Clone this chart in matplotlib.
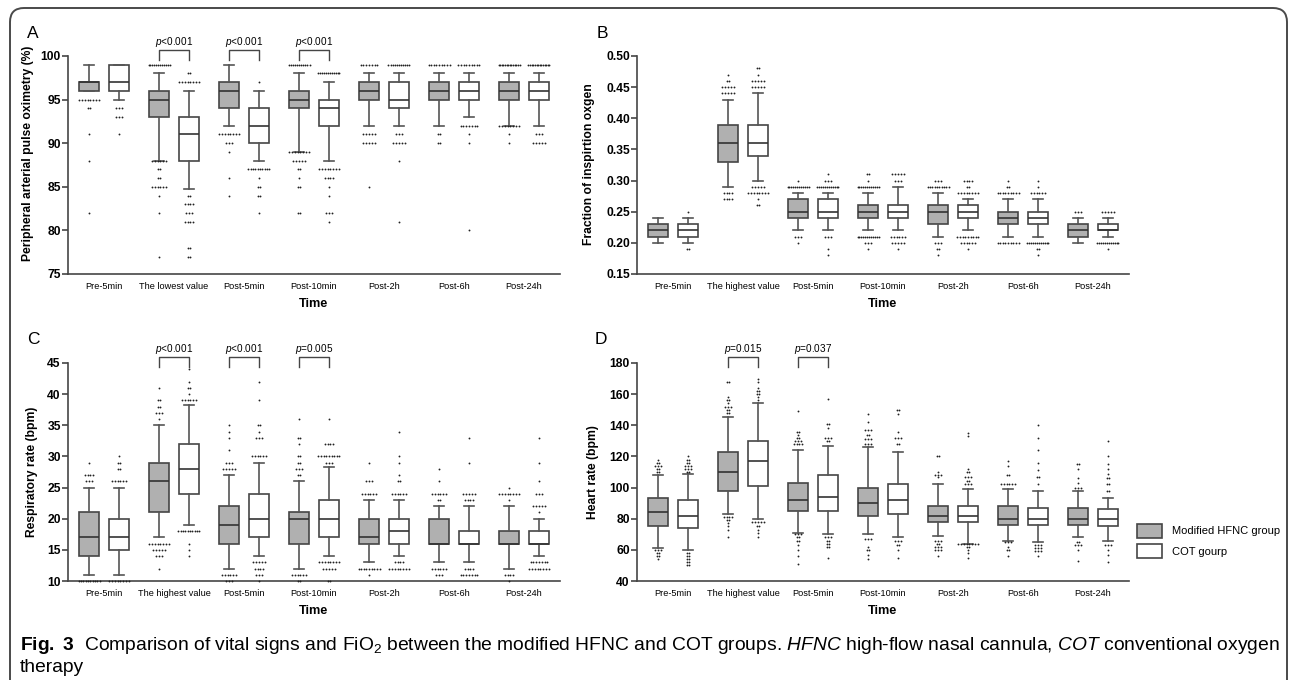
import matplotlib
matplotlib.use('Agg')
import matplotlib.pyplot as plt
from matplotlib.patches import Patch, FancyBboxPatch
from matplotlib.transforms import IdentityTransform, blended_transform_factory
import numpy as np

plt.rcParams['font.family'] = ['Liberation Sans', 'DejaVu Sans']
plt.rcParams['mathtext.fontset'] = 'custom'
plt.rcParams['mathtext.rm'] = 'Liberation Sans'
plt.rcParams['mathtext.it'] = 'Liberation Sans:italic'
plt.rcParams['mathtext.bf'] = 'Liberation Sans:bold'

times_low = ['Pre-5min', 'The lowest value', 'Post-5min', 'Post-10min', 'Post-2h', 'Post-6h', 'Post-24h']
times_high = ['Pre-5min', 'The highest value', 'Post-5min', 'Post-10min', 'Post-2h', 'Post-6h', 'Post-24h']
groups = ['Modified HFNC group', 'COT gourp']

# box stats per time point: (whisker low, q1, median, q3, whisker high)
# outliers: {value: number of patients}
spo2_hfnc = [(96, 96, 97, 97, 99), (88, 93, 95, 96, 98), (92, 94, 96, 97, 99), (89, 94, 95, 96, 98),
             (92, 95, 96, 97, 98), (92, 95, 96, 97, 98), (92, 95, 96, 97, 98)]
spo2_hfnc_out = [{95: 8, 94: 2, 91: 1, 88: 1, 82: 1},
                 {99: 12, 88: 6, 87: 2, 86: 2, 85: 6, 84: 1, 82: 1, 77: 1},
                 {91: 8, 90: 3, 89: 1, 86: 1, 84: 1},
                 {99: 11, 89: 8, 88: 5, 87: 2, 86: 1, 85: 2, 82: 2},
                 {99: 7, 91: 5, 90: 5, 85: 1},
                 {99: 9, 91: 2, 90: 2},
                 {99: 14, 92: 8, 91: 1, 90: 1}]
spo2_cot = [(95, 96, 97, 99, 99), (84.7, 88, 91, 93, 96), (88, 90, 92, 94, 96), (88, 92, 94, 95, 97),
            (92, 94, 95, 97, 98), (93, 95, 96, 97, 98), (92, 95, 96, 97, 98)]
spo2_cot_out = [{94: 3, 93: 3, 91: 1},
                {98: 2, 97: 8, 84: 2, 83: 4, 82: 3, 81: 4, 78: 2, 77: 2},
                {97: 1, 87: 10, 86: 1, 85: 2, 84: 2, 82: 1},
                {98: 12, 87: 8, 86: 4, 85: 1, 84: 1, 82: 3, 81: 1},
                {99: 11, 91: 3, 90: 5, 88: 1, 81: 1},
                {99: 9, 92: 7, 91: 1, 90: 1, 80: 1},
                {99: 14, 91: 3, 90: 5}]

fio2_hfnc = [(0.20, 0.21, 0.22, 0.23, 0.24), (0.29, 0.33, 0.36, 0.39, 0.43), (0.22, 0.24, 0.25, 0.27, 0.28),
             (0.22, 0.24, 0.25, 0.26, 0.28), (0.21, 0.23, 0.25, 0.26, 0.28), (0.21, 0.23, 0.24, 0.25, 0.27),
             (0.20, 0.21, 0.22, 0.23, 0.24)]
fio2_hfnc_out = [{},
                 {0.47: 1, 0.46: 2, 0.45: 5, 0.44: 5, 0.28: 4, 0.27: 4},
                 {0.30: 1, 0.29: 12, 0.21: 3, 0.20: 1},
                 {0.31: 2, 0.30: 1, 0.29: 12, 0.21: 12, 0.20: 3, 0.19: 1},
                 {0.30: 3, 0.29: 10, 0.20: 3, 0.19: 2, 0.18: 1},
                 {0.30: 1, 0.29: 2, 0.28: 9, 0.20: 9},
                 {0.25: 3}]
fio2_cot = [(0.20, 0.21, 0.22, 0.23, 0.24), (0.30, 0.34, 0.36, 0.39, 0.44), (0.22, 0.24, 0.25, 0.27, 0.28),
            (0.22, 0.24, 0.25, 0.26, 0.29), (0.22, 0.24, 0.25, 0.26, 0.27), (0.21, 0.23, 0.24, 0.25, 0.27),
            (0.21, 0.22, 0.22, 0.23, 0.24)]
fio2_cot_out = [{0.25: 1, 0.19: 2},
                {0.48: 2, 0.47: 1, 0.46: 5, 0.45: 5, 0.29: 5, 0.28: 8, 0.27: 1, 0.26: 2},
                {0.31: 1, 0.30: 3, 0.29: 12, 0.21: 3, 0.19: 1, 0.18: 1},
                {0.31: 5, 0.30: 3, 0.21: 6, 0.20: 5, 0.19: 1},
                {0.30: 4, 0.29: 2, 0.28: 8, 0.21: 9, 0.20: 6, 0.19: 1},
                {0.30: 1, 0.29: 1, 0.28: 6, 0.20: 12, 0.19: 2, 0.18: 1},
                {0.25: 5, 0.20: 12, 0.19: 1}]

rr_hfnc = [(11, 14, 17, 21, 25), (17, 21, 26, 29, 35), (12, 16, 19, 22, 27), (12, 16, 20, 21, 26),
           (13, 16, 17, 20, 23), (13, 16, 16, 20, 22), (12, 16, 16, 18, 22)]
rr_hfnc_out = [{29: 1, 27: 4, 26: 3, 10: 10},
               {41: 1, 39: 2, 38: 2, 37: 3, 36: 1, 16: 8, 15: 5, 14: 3, 12: 1},
               {35: 1, 34: 1, 33: 1, 31: 1, 29: 3, 28: 5, 11: 6, 10: 3},
               {36: 1, 33: 2, 32: 1, 30: 2, 29: 2, 28: 3, 27: 2, 11: 6, 10: 2},
               {29: 1, 26: 3, 24: 6, 12: 9, 11: 1},
               {28: 1, 26: 1, 24: 6, 23: 2, 12: 6, 11: 3},
               {25: 1, 24: 8, 23: 1, 11: 4, 10: 1}]
rr_cot = [(11, 15, 17, 20, 25), (19, 24, 28, 32, 38.3), (14, 17, 20, 24, 29), (14, 17, 20, 23, 28.3),
          (14, 16, 18, 20, 23), (13, 16, 16, 18, 22), (14, 16, 16, 18, 20)]
rr_cot_out = [{30: 1, 29: 2, 28: 2, 26: 6, 10: 8},
              {44: 1, 42: 1, 41: 2, 40: 1, 39: 6, 18: 10, 16: 1, 15: 1, 14: 1},
              {42: 1, 39: 1, 35: 2, 34: 1, 33: 3, 30: 6, 13: 5, 12: 4, 11: 3, 10: 1},
              {36: 1, 32: 4, 30: 9, 29: 3, 13: 8, 12: 5, 10: 2},
              {34: 1, 30: 1, 29: 1, 27: 1, 26: 2, 24: 6, 13: 4, 12: 8},
              {33: 1, 29: 1, 24: 5, 23: 4, 12: 4, 11: 7},
              {33: 1, 29: 1, 26: 1, 24: 3, 22: 5, 21: 1, 13: 7, 12: 8}]

hr_hfnc = [(61, 75, 84, 93, 108), (83, 98, 110, 123, 145), (71, 85, 92, 103, 124), (70, 82, 90, 100, 126),
           (69, 78, 82, 88, 102), (66, 76, 80, 88, 99), (68, 76, 80, 87, 98)]
hr_hfnc_out = [{118: 1, 116: 2, 114: 3, 112: 2, 110: 2, 60: 3, 58: 2, 56: 2, 54: 1},
               {168: 2, 158: 1, 156: 2, 154: 1, 152: 3, 150: 2, 148: 2, 81: 4, 79: 2, 77: 1, 75: 1, 73: 1, 68: 1},
               {149: 1, 136: 2, 134: 1, 132: 2, 130: 3, 128: 4, 70: 3, 68: 2, 66: 2, 63: 1, 60: 1, 56: 1, 51: 1},
               {147: 1, 142: 1, 137: 3, 134: 2, 131: 3, 128: 3, 67: 3, 62: 1, 60: 2, 57: 1, 54: 1},
               {120: 2, 110: 1, 108: 3, 107: 1, 66: 3, 64: 2, 62: 3, 60: 3, 56: 1},
               {117: 1, 114: 1, 108: 2, 102: 6, 65: 3, 62: 1, 60: 2, 56: 1},
               {115: 2, 112: 1, 106: 1, 103: 1, 100: 3, 65: 2, 63: 3, 60: 1, 53: 1}]
hr_cot = [(60, 74, 82, 92, 109), (80, 101, 117, 130, 154), (70, 85, 94, 108, 127), (68, 83, 92, 102, 123),
          (64, 78, 82, 88, 99), (65, 76, 80, 87, 98), (66, 75, 80, 86, 93)]
hr_cot_out = [{120: 1, 118: 2, 116: 2, 114: 3, 112: 3, 110: 2, 58: 2, 56: 2, 54: 2, 52: 2, 50: 2},
              {170: 1, 168: 1, 164: 1, 162: 2, 160: 2, 158: 1, 156: 1, 78: 5, 75: 2, 73: 1, 71: 1, 68: 1},
              {157: 1, 141: 2, 138: 1, 132: 3, 130: 2, 68: 3, 66: 2, 64: 2, 62: 2, 55: 1},
              {150: 2, 147: 1, 136: 1, 132: 3, 128: 2, 66: 3, 63: 2, 60: 1, 55: 1},
              {135: 1, 133: 1, 112: 1, 110: 2, 107: 3, 104: 2, 102: 3, 64: 8, 62: 2, 60: 1, 58: 1, 55: 1},
              {140: 1, 132: 1, 124: 1, 116: 1, 111: 1, 107: 2, 102: 1, 63: 3, 61: 3, 59: 3, 56: 1},
              {130: 1, 120: 1, 115: 1, 112: 1, 109: 1, 106: 2, 102: 2, 98: 2, 63: 3, 60: 1, 57: 1, 52: 1}]

# p values over time points (index: text)
p_spo2 = {1: '<0.001', 2: '<0.001', 3: '<0.001'}
p_rr = {1: '<0.001', 2: '<0.001', 3: '=0.005'}
p_hr = {1: '=0.015', 2: '=0.037'}

GRAY = '#b0b0b0'
EDGE = '#454545'
W, H = 1295, 680

fig = plt.figure(figsize=(W / 100, H / 100), dpi=100)


def draw_panel(rect, hfnc, hfnc_out, cot, cot_out, labels, ylim, yticks, fmt, ylabel, ylab_xy, pvals):
    ax = fig.add_axes(rect)
    for stats, outs, shift, color in [(hfnc, hfnc_out, -0.214, GRAY), (cot, cot_out, 0.214, 'white')]:
        pos = np.arange(len(stats)) + shift
        bx = [dict(whislo=s[0], q1=s[1], med=s[2], q3=s[3], whishi=s[4], fliers=[]) for s in stats]
        ax.bxp(bx, positions=pos, widths=0.286, capwidths=0.13, patch_artist=True, showfliers=False,
               manage_ticks=False,
               boxprops=dict(facecolor=color, edgecolor=EDGE, linewidth=1.2),
               whiskerprops=dict(color='#555555', linewidth=1.2),
               capprops=dict(color='#555555', linewidth=1.2),
               medianprops=dict(color='#333333', linewidth=1.2))
        for p, o in zip(pos, outs):
            for val, n in o.items():
                # rows of tied outliers are squeezed so they stay about box-wide
                dx = 0.04 if n < 2 else min(0.04, 0.3 / (n - 1))
                xs = p + (np.arange(n) - (n - 1) / 2) * dx
                ax.scatter(xs, [val] * n, s=1.8, c='#222222', linewidths=0, clip_on=False, zorder=3)
    ax.set_xlim(-0.514, 6.514)
    ax.set_ylim(*ylim)
    ax.set_yticks(yticks)
    ax.set_yticklabels([fmt.format(t) for t in yticks], fontweight='bold', fontsize=8.7)
    ax.set_xticks(np.arange(7))
    ax.set_xticklabels(labels, fontsize=6.6)
    ax.tick_params(axis='x', length=0, pad=5.5)
    ax.tick_params(axis='y', direction='out', length=4, width=1.2, color=EDGE, pad=1.2)
    for s in ['top', 'right']:
        ax.spines[s].set_visible(False)
    for s in ['left', 'bottom']:
        ax.spines[s].set_color(EDGE)
        ax.spines[s].set_linewidth(1.2)
    ax.set_xlabel('Time', fontsize=9.2, fontweight='bold', labelpad=5)
    ax.set_ylabel(ylabel, fontsize=8.75, fontweight='bold')
    ax.yaxis.set_label_coords(*ylab_xy)
    tr = blended_transform_factory(ax.transData, ax.transAxes)
    for i, txt in pvals.items():
        ax.plot([i - 0.214, i - 0.214, i + 0.214, i + 0.214], [0.982, 1.0275, 1.0275, 0.982],
                color=EDGE, lw=1.0, transform=tr, clip_on=False)
        ax.text(i, 1.065, r'$p$' + txt, transform=tr, ha='center', va='center', fontsize=7.2)
    return ax


ax_w = 492 / W
ax_h = 218 / H
top_b = 1 - 274 / H
bot_b = 1 - 581 / H
left_a = 68 / W
left_b = 637 / W

draw_panel([left_a, top_b, ax_w, ax_h], spo2_hfnc, spo2_hfnc_out, spo2_cot, spo2_cot_out, times_low,
           (75, 100), [75, 80, 85, 90, 95, 100], '{:.0f}', 'Peripheral arterial pulse oximetry (%)',
           (-0.069, 0.555), p_spo2)
draw_panel([left_b, top_b, ax_w, ax_h], fio2_hfnc, fio2_hfnc_out, fio2_cot, fio2_cot_out, times_high,
           (0.15, 0.50), [0.15, 0.20, 0.25, 0.30, 0.35, 0.40, 0.45, 0.50], '{:.2f}', 'Fraction of inspirtion oxgen',
           (-0.085, 0.505), {})
draw_panel([left_a, bot_b, ax_w, ax_h], rr_hfnc, rr_hfnc_out, rr_cot, rr_cot_out, times_high,
           (10, 45), [10, 15, 20, 25, 30, 35, 40, 45], '{:.0f}', 'Respiratory rate (bpm)', (-0.061, 0.5), p_rr)
ax_d = draw_panel([left_b, bot_b, ax_w, ax_h], hr_hfnc, hr_hfnc_out, hr_cot, hr_cot_out, times_high,
                  (40, 180), [40, 60, 80, 100, 120, 140, 160, 180], '{:.0f}', 'Heart rate (bpm)', (-0.077, 0.5), p_hr)

handles = [Patch(facecolor=GRAY, edgecolor=EDGE, linewidth=1.2), Patch(facecolor='white', edgecolor=EDGE, linewidth=1.2)]
ax_d.legend(handles, groups, loc='upper left', bbox_to_anchor=(1.0163, 0.2615), frameon=False, fontsize=8,
            handlelength=2.25, handleheight=1.5, labelspacing=0.6, handletextpad=0.9, borderpad=0, borderaxespad=0)

for letter, x, y in [('A', 33, 33), ('B', 602, 33), ('C', 33, 340), ('D', 601, 339)]:
    fig.text(x / W, 1 - y / H, letter, fontsize=12.5, ha='center', va='center')

# outer frame
frame = FancyBboxPatch((10, -30), 1277, 702, boxstyle='round,pad=0,rounding_size=14', transform=IdentityTransform(),
                       fill=False, edgecolor='#4a4a4a', linewidth=1.4)
fig.add_artist(frame)

cap1 = fig.text(20 / W, 1 - 645 / H,
                r'$\mathbf{Fig.\ 3}$  Comparison of vital signs and FiO$_2$ between the modified HFNC and COT groups. '
                r'$HFNC$ high-flow nasal cannula, $COT$ conventional oxygen', fontsize=12, ha='left', va='center')
cap2 = fig.text(20 / W, 1 - 668 / H, 'therapy', fontsize=12, ha='left', va='center')
fig.canvas.draw()
fs = 12 * 1255 / cap1.get_window_extent().width
cap1.set_fontsize(fs)
cap2.set_fontsize(fs)

fig.savefig('out.png', dpi=100)
